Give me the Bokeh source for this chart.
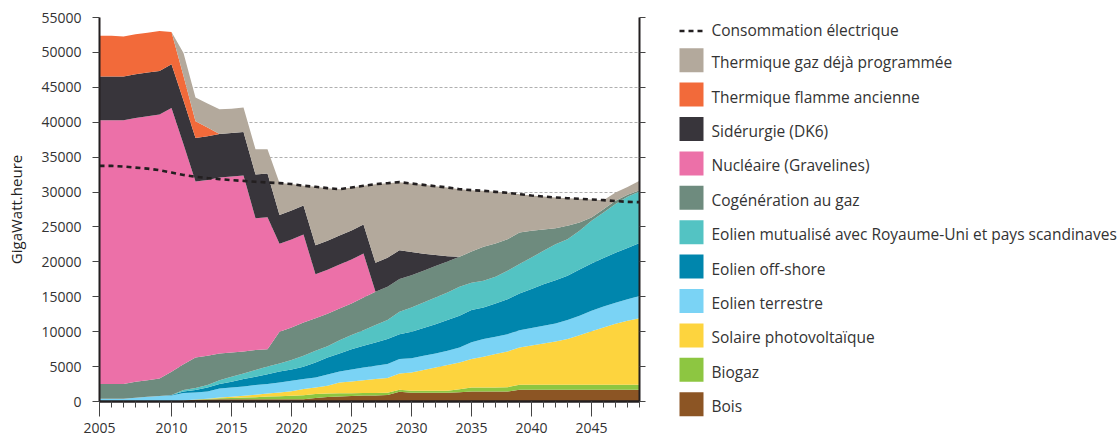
from bokeh.plotting import figure
from bokeh.models import FixedTicker, LinearAxis, Range1d, ColumnDataSource
from bokeh.embed import file_html
from bokeh.resources import INLINE
from bokeh.core.properties import value

# ---------------- data ----------------
points = list(range(46))  # yearly steps, first label 2005, last point 2049
tick_pos = [0, 6, 11, 16, 21, 26, 31, 36, 41]
tick_labels = ["2005", "2010", "2015", "2020", "2025", "2030", "2035", "2040", "2045"]

bois = [0, 0, 0, 0, 0, 0, 0, 150, 250, 300, 340, 340, 340, 340, 340, 340, 340, 340,
        490, 630, 720, 790, 860, 860, 920, 1390, 1250, 1250, 1250, 1250, 1330,
        1430, 1430, 1430, 1430] + [1680] * 11
biogaz = [0] * 8 + [50, 50, 110, 160, 220, 280, 360, 420, 480, 560, 570, 520, 460, 390,
                    360, 360, 350, 290, 280, 280, 280, 280, 430, 570, 570, 570, 620] + [710] * 11
solaire = [0] * 9 + [50, 120, 170, 260, 340, 450, 530, 660, 880, 940, 1100, 1540, 1680,
                     1840, 1990, 2080, 2330, 2620, 2970, 3340, 3680, 3820, 4100, 4400, 4790,
                     5110, 5340, 5630, 5920, 6200, 6550, 7110, 7670, 8210, 8730, 9170, 9550]
terrestre = [390, 390, 390, 530, 670, 770, 860, 1050, 1000, 1030, 1290, 1330, 1330, 1390,
             1340, 1430, 1480, 1430, 1440, 1600, 1580, 1720, 1810, 1900, 2010, 2060, 2060,
             2040, 2000, 2050, 2150, 2400, 2540, 2470, 2490, 2490, 2490, 2530, 2580, 2720,
             2770, 2930, 3000, 3030, 3090, 3160]
offshore = [0] * 6 + [60, 230, 330, 570, 630, 820, 1060, 1190, 1430, 1580, 1610, 1760, 2140,
                      2450, 2570, 2920, 3110, 3340, 3580, 3580, 3770, 3970, 4210, 4400, 4540,
                      4600, 4520, 4770, 5010, 5250, 5590, 5970, 6210, 6340, 6630, 6760, 6950,
                      7150, 7350, 7600]
mutualise = [0] * 7 + [200, 290, 350, 570, 720, 800, 960, 1090, 1140, 1380, 1570, 1680, 1600,
                       1920, 2010, 2240, 2490, 2720, 3200, 3480, 3670, 3810, 3950, 4160, 3900,
                       3820, 3830, 4060, 4210, 4520, 4770, 5160, 5250, 5540, 6130, 6520, 6970,
                       7310, 7370]
cogeneration = [2100, 2100, 2100, 2290, 2390, 2520, 3330, 3720, 4380, 4190, 3810, 3480, 3150,
                2860, 2490, 4540, 4650, 4770, 4680, 4680, 4530, 4520, 4670, 4770, 4770, 4680,
                4640, 4540, 4500, 4440, 4290, 4480, 4870, 4770, 4530, 4520, 3820, 3050, 2290,
                1910, 1190, 470, 480, 470, 290, 200]
nucleaire = [37800] * 7 + [31500] + [25200] * 5 + [18900] * 2 + [12600] * 3 + [6300] * 5 + [0] * 23
siderurgie = [6250] * 15 + [4150] * 11 + [3300, 2450, 1600, 750] + [0] * 16
flamme = [5830, 5830, 5730, 5730, 5720, 5720, 4630, 3530, 2390, 1250] + [0] * 36
gaz = [0] * 7 + [3300, 3390, 3440, 3550, 3450, 3490, 3630, 3490,
                 4550, 3800, 2840, 8360, 7530, 6640, 6170, 5550, 11270, 10690, 9740, 9820,
                 9860, 9850, 9850, 9690, 8790, 8020, 7400, 6640, 5500, 5060, 4730, 4390,
                 3960, 3400, 2580, 1290, 1190, 1140, 1330]
consommation = [33750, 33750, 33650, 33500, 33350, 33130, 32800, 32450, 32180, 32000,
                31850, 31700, 31600, 31470, 31370, 31280, 31150, 30900, 30750, 30560,
                30410, 30650, 30890, 31130, 31270, 31420, 31220, 31030, 30840, 30650,
                30410, 30270, 30170, 30030, 29890, 29700, 29500, 29360, 29220, 29120,
                29030, 28930, 28840, 28700, 28600, 28550]

series_names = ["bois", "biogaz", "solaire", "terrestre", "offshore", "mutualise",
                "cogeneration", "nucleaire", "siderurgie", "flamme", "gaz"]
series_labels = ["Bois", "Biogaz", "Solaire photovoltaïque", "Eolien terrestre",
                 "Eolien off-shore", "Eolien mutualisé avec Royaume-Uni et pays scandinaves",
                 "Cogénération au gaz", "Nucléaire (Gravelines)", "Sidérurgie (DK6)",
                 "Thermique flamme ancienne", "Thermique gaz déjà programmée"]
series_colors = ["#8C5524", "#8DC641", "#FDD43E", "#7AD3F5", "#0086AD", "#53C3C3",
                 "#6E8B7E", "#EC70A8", "#38353B", "#F26A3A", "#B3A99C"]
conso_label = "Consommation électrique"

src = ColumnDataSource(dict(x=points, bois=bois, biogaz=biogaz, solaire=solaire,
                            terrestre=terrestre, offshore=offshore, mutualise=mutualise,
                            cogeneration=cogeneration, nucleaire=nucleaire,
                            siderurgie=siderurgie, flamme=flamme, gaz=gaz,
                            conso=consommation))

FONT = "Open Sans"
TXT = "#333333"
AX = "#231F20"

# ---------------- main chart ----------------
PW, H = 646, 435
p = figure(width=PW, height=H, x_range=Range1d(0, 45), y_range=Range1d(0, 55000),
           output_backend="svg", toolbar_location=None,
           min_border_left=99, min_border_right=7, min_border_top=17, min_border_bottom=34)
p.outline_line_color = None
p.background_fill_color = "white"

p.varea_stack(stackers=series_names, x="x", color=series_colors, source=src)
p.line(x="x", y="conso", source=src, line_color=AX, line_width=2.6, line_dash="5 4")

yticks = list(range(0, 55001, 5000))
p.yaxis.ticker = FixedTicker(ticks=yticks)
p.ygrid.ticker = FixedTicker(ticks=yticks)
p.ygrid.grid_line_color = "#AFAFAF"
p.ygrid.grid_line_dash = "3 2"
p.ygrid.grid_line_width = 1
p.xgrid.visible = False

p.xaxis.ticker = FixedTicker(ticks=tick_pos, minor_ticks=points)
p.xaxis.major_label_overrides = {t: l for t, l in zip(tick_pos, tick_labels)}
p.xaxis.major_tick_out = 15
p.xaxis.major_tick_in = 0
p.xaxis.minor_tick_out = 6
p.xaxis.minor_tick_in = 0
p.xaxis.major_label_standoff = 6
p.xaxis.axis_line_width = 2.5

p.yaxis.major_tick_out = 7
p.yaxis.major_tick_in = 0
p.yaxis.minor_tick_out = 0
p.yaxis.minor_tick_in = 0
p.yaxis.major_label_standoff = 11
p.yaxis.axis_line_width = 2
p.yaxis.axis_label = "GigaWatt.heure"
p.yaxis.axis_label_standoff = 12
p.yaxis.axis_label_text_font = FONT
p.yaxis.axis_label_text_font_size = "15px"
p.yaxis.axis_label_text_font_style = "normal"
p.yaxis.axis_label_text_color = "#222222"

for ax in (p.xaxis, p.yaxis):
    ax.axis_line_color = AX
    ax.major_tick_line_color = "#444444"
    ax.minor_tick_line_color = "#444444"
    ax.major_label_text_font = FONT
    ax.major_label_text_font_size = "14px"
    ax.major_label_text_color = TXT

right_axis = LinearAxis(ticker=FixedTicker(ticks=yticks), major_label_text_font_size="0px",
                        major_label_text_color=None, major_label_standoff=0,
                        major_tick_out=6, major_tick_in=0, minor_tick_out=0, minor_tick_in=0,
                        axis_line_width=2, axis_line_color=AX, major_tick_line_color="#444444")
p.add_layout(right_axis, "right")

# ---------------- legend panel (separate root, placed to the right) ----------------
LW = 1120 - PW
q = figure(width=LW, height=H, x_range=Range1d(0, LW), y_range=Range1d(H, 0),
           output_backend="svg", toolbar_location=None, min_border=0,
           x_axis_location=None, y_axis_location=None)
q.outline_line_color = None
q.grid.visible = False
q.styles = {"position": "absolute", "left": f"{PW}px", "top": "0px"}

leg_labels = list(reversed(series_labels))
leg_colors = list(reversed(series_colors))
n = len(leg_labels)
sw_y = [59.7 + 34.4 * k for k in range(n)]
sw_x = 691 - PW
leg_src = ColumnDataSource(dict(x=[sw_x] * n, y=sw_y, c=leg_colors,
                                tx=[sw_x + 20] * n, ty=[v + 2 for v in sw_y], t=leg_labels))
q.rect(x="x", y="y", width=24, height=24, fill_color="c", line_color=None, source=leg_src)
q.text(x="tx", y="ty", text="t", source=leg_src, text_font=value(FONT),
       text_font_size="15.5px", text_color=TXT, text_baseline="middle", text_align="left")

q.segment(x0=[sw_x - 12], y0=[30.5], x1=[sw_x + 12], y1=[30.5], line_color=AX,
          line_width=2.6, line_dash="5 4")
q.text(x=[sw_x + 20], y=[29.5], text=[conso_label], text_font=value(FONT),
       text_font_size="15.5px", text_color=TXT, text_baseline="middle", text_align="left")

open("out.html", "w").write(file_html((p, q), INLINE))
